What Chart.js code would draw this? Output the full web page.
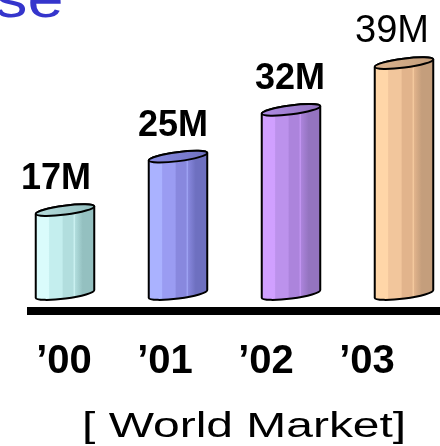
<!DOCTYPE html>
<html>
<head>
<meta charset="utf-8">
<script src="https://cdn.jsdelivr.net/npm/chart.js@4/dist/chart.umd.min.js"></script>
<style>
  html, body { margin: 0; padding: 0; background: #ffffff; }
  #wrap { position: relative; width: 440px; height: 446px; overflow: hidden; }
  canvas { display: block; }
</style>
</head>
<body>
<div id="wrap"><canvas id="c" width="440" height="446"></canvas></div>
<script>
// ---- data ----
const categories = ['\u201900', '\u201901', '\u201902', '\u201903'];
const values = [17, 25, 32, 39];
const valueLabels = ['17M', '25M', '32M', '39M'];
const footnote = '[ World Market]';
const titleFragment = 'se';

// ---- styles ----
const bodyColors = [
  ['#dafcfc', '#c4eeee', '#b2dede', '#94c0c0'],
  ['#aab2ff', '#9a9cf2', '#8888de', '#6e70c0'],
  ['#d0a0ff', '#bc92ec', '#ac84dc', '#9474c0'],
  ['#ffd6a8', '#f2c69c', '#e2b48c', '#c49e7c']
];
const topColors = ['#b6dcdc', '#8a8ce2', '#ae8ce4', '#dcb48e'];
const labelWeights = ['bold', 'bold', 'bold', 'normal'];
const labelSizes = [36, 36, 36, 38];
const labelShift = [-9, -5, -1, -12];

const cylinderPlugin = {
  id: 'cylinders',
  afterDatasetsDraw(chart) {
    const ctx = chart.ctx;
    const meta = chart.getDatasetMeta(0);
    const rot = -0.13;
    const ry = 4.5;
    const baseY = chart.scales.y.getPixelForValue(chart.scales.y.min);
    meta.data.forEach((el, i) => {
      const p = el.getProps(['x', 'y', 'width'], true);
      const cx = p.x, w = p.width, rx = w / 2;
      const topY = p.y, botY = baseY - 3;
      const cosr = Math.cos(rot), sinr = Math.sin(rot);
      const ptTop = (th) => [cx + rx * Math.cos(th) * cosr - ry * Math.sin(th) * sinr,
                             topY + rx * Math.cos(th) * sinr + ry * Math.sin(th) * cosr];
      const ptBot = (th) => [cx + rx * Math.cos(th) * cosr - ry * Math.sin(th) * sinr,
                             botY + rx * Math.cos(th) * sinr + ry * Math.sin(th) * cosr];
      const c = bodyColors[i];
      const g = ctx.createLinearGradient(cx - rx, 0, cx + rx, 0);
      g.addColorStop(0, c[0]);
      g.addColorStop(0.22, c[0]);
      g.addColorStop(0.24, c[1]);
      g.addColorStop(0.45, c[1]);
      g.addColorStop(0.47, c[2]);
      g.addColorStop(0.64, c[2]);
      g.addColorStop(0.655, c[0]);
      g.addColorStop(0.67, c[2]);
      g.addColorStop(0.8, c[3]);
      g.addColorStop(1, c[3]);
      ctx.save();
      ctx.lineWidth = 2;
      ctx.strokeStyle = '#000000';
      ctx.lineJoin = 'round';
      // body
      ctx.beginPath();
      const a = ptTop(Math.PI);
      const b = ptBot(Math.PI);
      ctx.moveTo(a[0], a[1]);
      ctx.lineTo(b[0], b[1]);
      ctx.ellipse(cx, botY, rx, ry, rot, Math.PI, 0, true);
      const d = ptTop(0);
      ctx.lineTo(d[0], d[1]);
      ctx.ellipse(cx, topY, rx, ry, rot, 0, Math.PI, true);
      ctx.closePath();
      ctx.fillStyle = g;
      ctx.fill();
      ctx.stroke();
      // top ellipse
      ctx.beginPath();
      ctx.ellipse(cx, topY, rx, ry, rot, 0, Math.PI * 2);
      const tg = ctx.createLinearGradient(cx - rx, 0, cx + rx, 0);
      tg.addColorStop(0, topColors[i]);
      tg.addColorStop(1, c[3]);
      ctx.fillStyle = tg;
      ctx.fill();
      ctx.stroke();
      // value label
      ctx.fillStyle = '#000000';
      ctx.font = labelWeights[i] + ' ' + labelSizes[i] + 'px "Liberation Sans", Arial, sans-serif';
      ctx.textAlign = 'center';
      ctx.textBaseline = 'alphabetic';
      ctx.fillText(valueLabels[i], cx + labelShift[i], topY - 21);
      ctx.restore();
    });
  },
  afterDraw(chart) {
    const ctx = chart.ctx;
    const area = chart.chartArea;
    ctx.save();
    // thick baseline
    ctx.fillStyle = '#000000';
    ctx.fillRect(27, area.bottom + 10, 440 - 27, 8);
    // category labels
    ctx.font = 'bold 40px "Liberation Sans", Arial, sans-serif';
    ctx.textAlign = 'center';
    ctx.textBaseline = 'alphabetic';
    categories.forEach((t, i) => {
      ctx.fillText(t, 64 + i * 101, area.bottom + 76);
    });
    // footnote (horizontally stretched)
    ctx.save();
    ctx.translate(82, area.bottom + 140);
    ctx.scale(1.37, 1);
    ctx.font = '35px "Liberation Sans", Arial, sans-serif';
    ctx.textAlign = 'left';
    ctx.fillText(footnote, 0, 0);
    ctx.restore();
    // clipped title fragment
    ctx.save();
    ctx.translate(-5, 17);
    ctx.scale(1.2, 1);
    ctx.fillStyle = '#3535cc';
    ctx.font = '54px "Liberation Sans", Arial, sans-serif';
    ctx.textAlign = 'left';
    ctx.fillText(titleFragment, 0, 0);
    ctx.restore();
    ctx.restore();
  }
};

new Chart(document.getElementById('c'), {
  type: 'bar',
  data: {
    labels: categories,
    datasets: [{
      data: values,
      backgroundColor: 'rgba(0,0,0,0)',
      borderWidth: 0,
      barThickness: 59
    }]
  },
  options: {
    responsive: false,
    animation: false,
    layout: { padding: { left: 65, right: 36, top: 23, bottom: 149 } },
    scales: {
      x: { type: 'category', offset: false, display: false },
      y: { display: false, min: 4, max: 45 }
    },
    plugins: { legend: { display: false }, tooltip: { enabled: false } }
  },
  plugins: [cylinderPlugin]
});
</script>
</body>
</html>
